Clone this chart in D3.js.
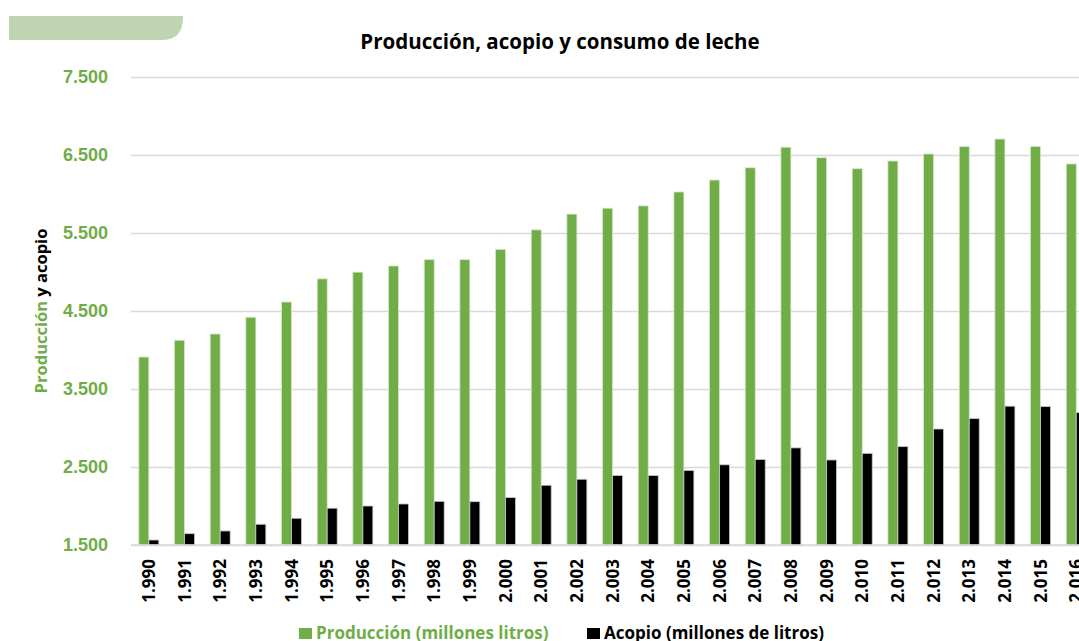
<!DOCTYPE html>
<html>
<head>
<meta charset="utf-8">
<script src="https://cdn.jsdelivr.net/npm/d3@7"></script>
<style>
  body { margin: 0; background: #fff; }
  svg { display: block; font-family: "Open Sans", Lato, sans-serif; }
</style>
</head>
<body>
<div id="chart-area"></div>
<script>
const width = 1079;
const height = 641;

// data
const years = ['1.990', '1.991', '1.992', '1.993', '1.994', '1.995', '1.996', '1.997', '1.998',
  '1.999', '2.000', '2.001', '2.002', '2.003', '2.004', '2.005', '2.006', '2.007', '2.008',
  '2.009', '2.010', '2.011', '2.012', '2.013', '2.014', '2.015', '2.016'];
const produccion = [3910, 4125, 4205, 4420, 4615, 4912, 4998, 5077, 5158, 5158, 5290, 5540,
  5742, 5818, 5848, 6026, 6179, 6336, 6600, 6465, 6324, 6423, 6513, 6607, 6705, 6610, 6385];
const acopio = [1564, 1645, 1680, 1766, 1843, 1972, 2000, 2026, 2060, 2055, 2108, 2266,
  2343, 2390, 2390, 2455, 2528, 2595, 2745, 2590, 2675, 2761, 2987, 3120, 3280, 3275, 3197];
const yTicks = [1500, 2500, 3500, 4500, 5500, 6500, 7500];
const seriesNames = ['Producción (millones litros)', 'Acopio (millones de litros)'];
const colors = ['#70ad47', '#000000'];

const svg = d3
  .select('#chart-area')
  .append('svg')
  .attr('width', width)
  .attr('height', height);

// header tab in the top left corner
svg
  .append('path')
  .attr('d', 'M9,16 H183 V18 Q183,40 161,40 H9 Z')
  .attr('fill', '#bfd5b2');

svg
  .append('text')
  .attr('x', 560)
  .attr('y', 49)
  .attr('text-anchor', 'middle')
  .attr('font-size', 20.5)
  .attr('font-weight', 'bold')
  .attr('fill', '#000')
  .text('Producción, acopio y consumo de leche');

const step = 35.67;
const x = d3
  .scaleBand()
  .domain(years)
  .range([131, 131 + step * years.length])
  .paddingInner(0.44)
  .paddingOuter(0.22);

const xSub = d3
  .scaleBand()
  .domain([0, 1])
  .range([0, x.bandwidth()]);

const y = d3.scaleLinear().domain([1500, 7500]).range([545, 77]);

// gridlines + y labels
const yAxis = svg
  .append('g')
  .attr('transform', 'translate(131,0)')
  .call(d3.axisLeft(y).tickValues(yTicks).tickSize(-(width - 131)).tickFormat((d) => d3.format(',')(d).replace(',', '.')).tickPadding(23));
yAxis.select('.domain').remove();
yAxis.selectAll('line').attr('stroke', '#d9d9d9').attr('stroke-width', 1.3);
yAxis
  .selectAll('text')
  .attr('fill', '#70ad47')
  .attr('font-size', 18)
  .attr('font-weight', 'bold');

// y axis title, two colours
const yTitle = svg
  .append('text')
  .attr('transform', 'translate(47,311) rotate(-90)')
  .attr('text-anchor', 'middle')
  .attr('font-size', 16.5)
  .attr('font-weight', 'bold');
yTitle.append('tspan').attr('fill', '#70ad47').text('Producción');
yTitle.append('tspan').attr('fill', '#000').text(' y acopio');

// bars
const groups = svg
  .append('g')
  .selectAll('g')
  .data(years)
  .join('g')
  .attr('transform', (d) => `translate(${x(d)},0)`);

groups
  .append('rect')
  .attr('x', xSub(0))
  .attr('width', xSub.bandwidth())
  .attr('y', (d, i) => y(produccion[i]))
  .attr('height', (d, i) => y(1500) - y(produccion[i]))
  .attr('fill', colors[0])
  .attr('stroke', '#d6e6cb')
  .attr('stroke-width', 0.8);

groups
  .append('rect')
  .attr('x', xSub(1))
  .attr('width', xSub.bandwidth())
  .attr('y', (d, i) => y(acopio[i]))
  .attr('height', (d, i) => y(1500) - y(acopio[i]))
  .attr('fill', colors[1])
  .attr('stroke', '#c8c8c8')
  .attr('stroke-width', 0.8);

// baseline
svg
  .append('line')
  .attr('x1', 131)
  .attr('x2', width)
  .attr('y1', y(1500))
  .attr('y2', y(1500))
  .attr('stroke', '#d9d9d9')
  .attr('stroke-width', 1.3);

// x labels
svg
  .append('g')
  .selectAll('text')
  .data(years)
  .join('text')
  .attr('transform', (d) => `translate(${x(d) + x.bandwidth() / 2 + 6},559) rotate(-90)`)
  .attr('text-anchor', 'end')
  .attr('font-size', 17)
  .attr('font-weight', 'bold')
  .attr('fill', '#000')
  .text((d) => d);

// legend
const legendX = [299, 587];
const legend = svg
  .append('g')
  .selectAll('g')
  .data(seriesNames)
  .join('g')
  .attr('transform', (d, i) => `translate(${legendX[i]},628)`);

legend
  .append('rect')
  .attr('width', 13)
  .attr('height', 11)
  .attr('fill', (d, i) => colors[i]);

legend
  .append('text')
  .attr('x', 17)
  .attr('y', 11)
  .attr('font-size', 17)
  .attr('font-weight', 'bold')
  .attr('fill', (d, i) => colors[i])
  .text((d) => d);
</script>
</body>
</html>
